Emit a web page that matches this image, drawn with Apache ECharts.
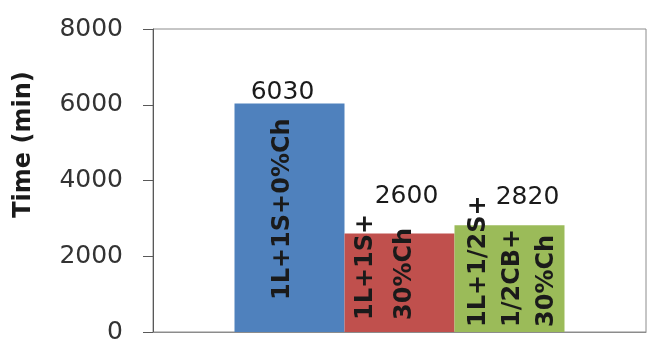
<!DOCTYPE html>
<html>
<head>
<meta charset="utf-8">
<script src="https://cdn.jsdelivr.net/npm/echarts@6/dist/echarts.min.js"></script>
<style>
html,body{margin:0;padding:0;background:#fff;}
#c{width:654px;height:345px;}
</style>
</head>
<body>
<div id="c"></div>
<script>
const seriesNames = ['1L+1S+0%Ch', '1L+1S+\n30%Ch', '1L+1/2S+\n1/2CB+\n30%Ch'];
const times = [6030, 2600, 2820];
const colors = ['#4f81bd', '#c0504d', '#9bbb59'];
const yMin = 0, yMax = 8000, yStep = 2000;
const axisTitle = 'Time (min)';

// per-bar label tweaks (styling only); offsets are in the rotated text frame
const nameLabelStyle = [
  {distance: 32, offset: [0, -7], lineHeight: 30},
  {distance: 12, offset: [0, -14], lineHeight: 39},
  {distance: 5, offset: [0, 3], lineHeight: 34}
];
const valueLabelStyle = [
  {offset: [-7, 1]},
  {offset: [7, -25]},
  {offset: [18, -15]}
];

const chart = echarts.init(document.getElementById('c'), null, {renderer: 'canvas'});
const series = seriesNames.map((name, i) => ({
  name: name,
  type: 'bar',
  barWidth: 110,
  barGap: '0%',
  data: [times[i]],
  itemStyle: {color: colors[i]},
  label: {
    show: true,
    position: 'insideBottom',
    rotate: 90,
    align: 'left',
    verticalAlign: 'middle',
    distance: nameLabelStyle[i].distance,
    offset: nameLabelStyle[i].offset,
    formatter: () => name,
    fontFamily: 'DejaVu Sans',
    fontWeight: 'bold',
    fontSize: 24,
    lineHeight: nameLabelStyle[i].lineHeight,
    color: '#1a1a1a'
  },
  markPoint: {
    symbol: 'circle',
    symbolSize: 0,
    silent: true,
    data: [{type: 'max'}],
    label: {
      show: true,
      position: 'top',
      distance: 0,
      offset: valueLabelStyle[i].offset,
      formatter: p => String(p.value),
      fontFamily: 'DejaVu Sans',
      fontSize: 25,
      color: '#1a1a1a'
    }
  },
  emphasis: {disabled: true}
}));

chart.setOption({
  animation: false,
  backgroundColor: '#ffffff',
  grid: {left: 153, right: 8, top: 29, bottom: 13, show: true, borderColor: '#8c8c8c', borderWidth: 1, outerBoundsMode: 'none', containLabel: false},
  xAxis: {
    type: 'category',
    data: [''],
    axisLine: {show: true, lineStyle: {color: '#8c8c8c', width: 1}},
    axisTick: {show: false},
    axisLabel: {show: false}
  },
  yAxis: {
    type: 'value',
    min: yMin, max: yMax, interval: yStep,
    name: axisTitle,
    nameLocation: 'middle',
    nameGap: 117,
    nameRotate: 90,
    nameTextStyle: {fontFamily: 'DejaVu Sans', fontWeight: 'bold', fontSize: 24, color: '#1a1a1a', padding: [0, 0, 0, 72]},
    axisLine: {show: true, lineStyle: {color: '#595959', width: 1}},
    axisTick: {show: true, length: 10, lineStyle: {color: '#595959'}},
    splitLine: {show: false},
    axisLabel: {fontFamily: 'DejaVu Sans', fontSize: 25, color: '#333333', margin: 30, formatter: v => String(v)}
  },
  series: series
});
</script>
</body>
</html>
